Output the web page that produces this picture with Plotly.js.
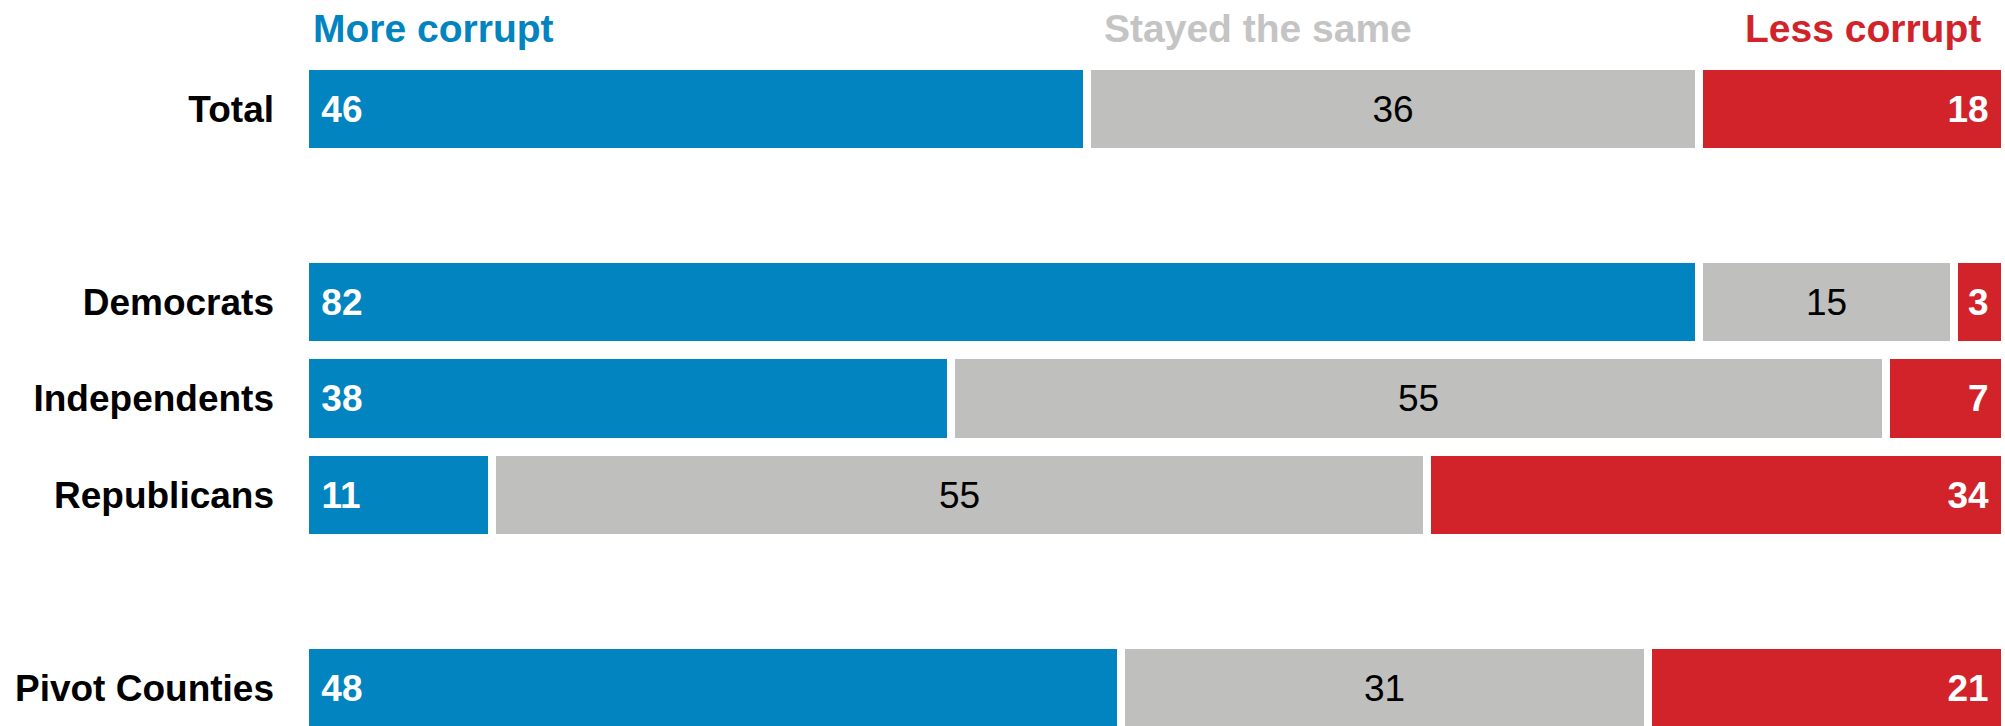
<!DOCTYPE html>
<html>
<head>
<meta charset="utf-8">
<script src="https://cdn.plot.ly/plotly-3.0.1.min.js"></script>
<style>
  html, body { margin: 0; padding: 0; background: #fff; }
  #chart { width: 2005px; height: 726px; }
</style>
</head>
<body>
<div id="chart"></div>
<script>
const groups = ["Total", "Democrats", "Independents", "Republicans", "Pivot Counties"];
const moreCorrupt = [46, 82, 38, 11, 48];
const stayedSame = [36, 15, 55, 55, 31];
const lessCorrupt = [18, 3, 7, 34, 21];
const seriesNames = ["More corrupt", "Stayed the same", "Less corrupt"];

// blank rows between the groups
const rowOrder = ["Total", " ", "Democrats", "Independents", "Republicans", "  ", "Pivot Counties"];

const BLUE = "#0284c0";
const GREY = "#bfbfbe";
const RED = "#d2232a";
const FONT = "Liberation Sans, Arial, sans-serif";
const PAD = "\u00a0\u200a"; // keeps the numbers off the bar ends

function barTrace(name, values, color, anchor, textColor, weight, template) {
  return {
    type: "bar",
    orientation: "h",
    name: name,
    y: groups,
    x: values,
    width: 0.9,
    marker: { color: color, line: { color: "#ffffff", width: 8 } },
    texttemplate: template,
    textposition: "inside",
    insidetextanchor: anchor,
    textangle: 0,
    textfont: { family: FONT, size: 37, color: textColor, weight: weight },
    hoverinfo: "x+name"
  };
}

const traces = [
  barTrace(seriesNames[0], moreCorrupt, BLUE, "start", "#ffffff", 700, PAD + "%{x}"),
  barTrace(seriesNames[1], stayedSame, GREY, "middle", "#000000", 400, "%{x}"),
  barTrace(seriesNames[2], lessCorrupt, RED, "end", "#ffffff", 700, "%{x}" + PAD)
];

const headerFont = { family: FONT, size: 39, weight: 700 };

const layout = {
  width: 2005,
  height: 726,
  barmode: "stack",
  bargap: 0,
  showlegend: false,
  uniformtext: { mode: false },
  margin: { t: 0, l: 305, r: 0, b: 0 },
  paper_bgcolor: "#ffffff",
  plot_bgcolor: "#ffffff",
  xaxis: {
    range: [0, 100],
    showgrid: false,
    zeroline: false,
    showticklabels: false,
    fixedrange: true
  },
  yaxis: {
    type: "category",
    categoryorder: "array",
    categoryarray: rowOrder,
    range: [6.394, -1.13],
    showgrid: false,
    zeroline: false,
    ticks: "",
    ticklabelstandoff: 30,
    tickfont: { family: FONT, size: 37, color: "#000000", weight: 700 },
    fixedrange: true
  },
  annotations: [
    { text: seriesNames[0], xref: "paper", yref: "paper", x: 0, y: 0.961,
      xanchor: "left", yanchor: "middle", xshift: 6, showarrow: false,
      font: Object.assign({ color: BLUE }, headerFont) },
    { text: seriesNames[1], xref: "paper", yref: "paper", x: 0.4688, y: 0.961,
      xanchor: "left", yanchor: "middle", showarrow: false,
      font: Object.assign({ color: "#c4c4c4" }, headerFont) },
    { text: seriesNames[2], xref: "paper", yref: "paper", x: 0.987, y: 0.961,
      xanchor: "right", yanchor: "middle", showarrow: false,
      font: Object.assign({ color: RED }, headerFont) }
  ]
};

const config = { displayModeBar: false, responsive: false };

Plotly.newPlot("chart", traces, layout, config);
</script>
</body>
</html>
